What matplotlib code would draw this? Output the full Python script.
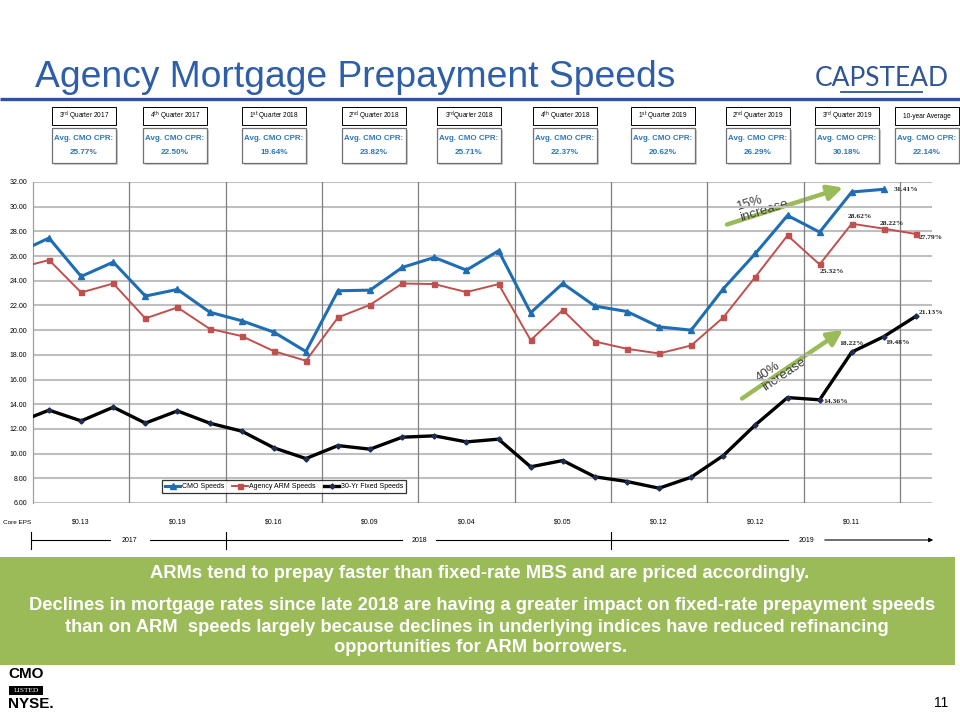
import matplotlib
matplotlib.use("Agg")
import matplotlib.pyplot as plt
import matplotlib.font_manager as fm
from matplotlib.patches import Rectangle
from matplotlib.transforms import blended_transform_factory

# ---------------- data ----------------
months = ["Jun-17", "Jul-17", "Aug-17", "Sep-17", "Oct-17", "Nov-17", "Dec-17",
          "Jan-18", "Feb-18", "Mar-18", "Apr-18", "May-18", "Jun-18",
          "Jul-18", "Aug-18", "Sep-18", "Oct-18", "Nov-18", "Dec-18",
          "Jan-19", "Feb-19", "Mar-19", "Apr-19", "May-19", "Jun-19",
          "Jul-19", "Aug-19", "Sep-19", "Oct-19"]
cmo_speeds = [26.25, 27.46, 24.35, 25.51, 22.76, 23.30, 21.46,
              20.76, 19.84, 18.27, 23.19, 23.24, 25.08,
              25.89, 24.86, 26.43, 21.41, 23.78, 21.95,
              21.51, 20.27, 20.00, 23.35, 26.21, 29.29,
              27.94, 31.19, 31.41]
arm_speeds = [25.00, 25.68, 23.05, 23.78, 20.95, 21.84, 20.11,
              19.52, 18.30, 17.52, 21.03, 22.05, 23.78,
              23.73, 23.08, 23.73, 19.19, 21.62, 19.08,
              18.49, 18.11, 18.76, 21.03, 24.32, 27.67,
              25.32, 28.62, 28.22, 27.79]
fixed_speeds = [12.50, 13.52, 12.65, 13.76, 12.47, 13.46, 12.47,
                11.82, 10.47, 9.60, 10.65, 10.36, 11.33,
                11.44, 10.95, 11.17, 8.93, 9.44, 8.12,
                7.74, 7.20, 8.09, 9.84, 12.33, 14.54,
                14.36, 18.22, 19.48, 21.13]
quarters = ["3$^{\\rm rd}$ Quarter 2017", "4$^{\\rm th}$ Quarter 2017",
            "1$^{\\rm st}$ Quarter 2018", "2$^{\\rm nd}$ Quarter 2018",
            "3$^{\\rm rd}$Quarter 2018", "4$^{\\rm th}$ Quarter 2018",
            "1$^{\\rm st}$ Quarter 2019", "2$^{\\rm nd}$ Quarter 2019",
            "3$^{\\rm rd}$ Quarter 2019", "10-year Average"]
avg_cmo_cpr = ["25.77%", "22.50%", "19.64%", "23.82%", "25.71%",
               "22.37%", "20.62%", "26.29%", "30.18%", "22.14%"]
core_eps = ["$0.13", "$0.19", "$0.16", "$0.09", "$0.04",
            "$0.05", "$0.12", "$0.12", "$0.11"]
years = ["2017", "2018", "2019"]
yticks = [6, 8, 10, 12, 14, 16, 18, 20, 22, 24, 26, 28, 30, 32]

# ---------------- fonts ----------------
names = {f.name for f in fm.fontManager.ttflist}
NARROW = "Liberation Sans Narrow" if "Liberation Sans Narrow" in names else "Liberation Sans"
SANS = "Liberation Sans"
SERIF = "Liberation Serif"

W, H = 960, 720
fig = plt.figure(figsize=(9.6, 7.2), dpi=100)
fig.patch.set_facecolor("white")

# overlay axes in pixel coordinates
ov = fig.add_axes([0, 0, 1, 1])
ov.set_xlim(0, W)
ov.set_ylim(H, 0)
ov.axis("off")
ov.set_zorder(0)

# main chart axes
L, R, T, B = 33, 932, 182, 503
ax = fig.add_axes([L / W, 1 - B / H, (R - L) / W, (B - T) / H])
ax.set_zorder(2)
ax.patch.set_alpha(0)
x = list(range(-1, len(months) - 1))

ax.plot(x[:len(cmo_speeds)], cmo_speeds, color="#1F6DB2", lw=2.2, marker="^",
        ms=4.5, label="CMO Speeds", zorder=5)
ax.plot(x, arm_speeds, color="#C0504D", lw=1.4, marker="s", ms=3.6,
        label="Agency ARM Speeds", zorder=4)
ax.plot(x, fixed_speeds, color="#000000", lw=2.4, marker="D", ms=2.6,
        mfc="#1F2D50", mec="#1F2D50", label="30-Yr Fixed Speeds", zorder=4)

ax.set_xlim(-0.5, len(months) - 1.5)
ax.set_ylim(6, 32)
ax.set_yticks(yticks)
ax.set_yticklabels([f"{v:.2f}" for v in yticks], fontsize=5.0, family=NARROW)
ax.tick_params(axis="y", length=0, pad=4)
ax.set_xticks([])
for v in yticks:
    ax.axhline(v, color="#BFBFBF", lw=1.5, zorder=1)
for q in range(1, 10):
    ax.axvline(3 * q - 0.5, color="#7F7F7F", lw=0.9, zorder=1)
for s in ["top", "right", "bottom"]:
    ax.spines[s].set_visible(False)
ax.spines["left"].set_color("#A0A0A0")
ax.spines["left"].set_linewidth(0.9)

leg = ax.legend(loc="center", bbox_to_anchor=(284 / W, 1 - 486.5 / H),
                bbox_transform=fig.transFigure, ncol=3, frameon=True,
                fancybox=False, edgecolor="black",
                prop={"family": NARROW, "size": 5.0}, handlelength=2.2,
                columnspacing=1.2, handletextpad=0.2, borderpad=0.4)
leg.get_frame().set_linewidth(0.9)

# data labels (x index: Jul-17 = 0)
lab = dict(fontsize=5.4, family=SERIF, fontweight="bold", color="#222222",
           textcoords="offset points")
def dl(series, i, dx, dy, ha="left", va="center"):
    v = series[i + 1]
    ax.annotate(f"{v:.2f}%", xy=(i, v), xytext=(dx, dy), ha=ha, va=va, **lab)

dl(cmo_speeds, 26, 7, 0)
dl(arm_speeds, 24, 0, -5)
dl(arm_speeds, 25, 6, 5, ha="center")
dl(arm_speeds, 26, 6, 4, ha="center")
dl(arm_speeds, 27, 2, -2.5)
dl(fixed_speeds, 24, 3, -1)
dl(fixed_speeds, 25, 0, 6, ha="center")
dl(fixed_speeds, 26, 1, -4)
dl(fixed_speeds, 27, 2, 2.5)

# ---------------- header ----------------
ov.text(35, 87, "Agency Mortgage Prepayment Speeds", fontsize=26.8, family=SANS,
        color="#2F5EA8", va="baseline", ha="left")
ov.plot([0, W], [98.5, 98.5], color="#2F5597", lw=2.4, solid_capstyle="butt")
ov.text(882, 78, "CAPSTEAD", fontsize=19, family="Lato", fontweight="normal",
        color="#2F5597", ha="center", va="center")
ov.plot([841, 922], [92, 92], color="#2F5597", lw=1.3)

# quarter boxes
box_l = [52, 143, 242, 342, 437, 533, 631, 726, 815, 895]
box_w = 64
for bl, qlab, cpr in zip(box_l, quarters, avg_cmo_cpr):
    ov.add_patch(Rectangle((bl, 107), box_w, 18, fc="white", ec="black", lw=0.7))
    ov.text(bl + box_w / 2, 116, qlab, fontsize=4.7, family=NARROW,
            ha="center", va="center", color="black")
    ov.add_patch(Rectangle((bl + 1.5, 129.5), box_w, 35, fc="#D0D0D0", ec="none"))
    ov.add_patch(Rectangle((bl, 128), box_w, 35, fc="white", ec="#707070", lw=0.9))
    ov.text(bl + box_w / 2, 139, "Avg. CMO CPR:", fontsize=5.7, family=NARROW,
            fontweight="bold", ha="center", va="center", color="#2E75B6")
    ov.text(bl + box_w / 2, 153, cpr, fontsize=5.9, family=NARROW,
            fontweight="bold", ha="center", va="center", color="#2E75B6")

# ---------------- below chart ----------------
bt = blended_transform_factory(ax.transData, ov.transData)
ov.text(17, 522, "Core EPS", fontsize=4.6, family=NARROW, ha="center",
        va="center", color="black")
for qi, e in enumerate(core_eps):
    ov.text(3 * qi + 1, 522, e, transform=bt, fontsize=5.0, family=NARROW,
            ha="center", va="center", color="black")

ty = 540
for bx in [-0.55, 5.5, 17.5]:
    ov.plot([bx, bx], [532, 549], transform=bt, color="black", lw=0.8)
ov.plot([31.5, 110], [ty, ty], color="black", lw=0.8)
ov.plot([150, 402], [ty, ty], color="black", lw=0.8)
ov.plot([436, 788], [ty, ty], color="black", lw=0.8)
ov.annotate("", xy=(936, ty), xytext=(822, ty),
            arrowprops=dict(arrowstyle="-|>", color="black", lw=0.8,
                            mutation_scale=6))
for yl, xc in zip(years, [129, 419, 806]):
    ov.text(xc, ty, yl, fontsize=5.0, family=NARROW, ha="center",
            va="center", color="black")

# green arrows and annotations
arrow_kw = dict(arrowstyle="-|>,head_length=0.9,head_width=0.45",
                color="#9BBB59", lw=3.2, shrinkA=0, shrinkB=0,
                mutation_scale=10)
ov.annotate("", xy=(843, 187.5), xytext=(727, 224.5), arrowprops=arrow_kw)
ov.annotate("", xy=(843, 330), xytext=(742, 398.5), arrowprops=arrow_kw)
ov.text(739, 213, "15%\nincrease", fontsize=9.5, family=SANS, color="#404040",
        rotation=17, rotation_mode="anchor", ha="left", va="center",
        linespacing=0.95, zorder=6)
ov.text(760, 384, "40%\nincrease", fontsize=9.5, family=SANS, color="#404040",
        rotation=34, rotation_mode="anchor", ha="left", va="center",
        linespacing=0.95, zorder=6)

# ---------------- green box ----------------
ov.add_patch(Rectangle((0, 557), 955, 108, fc="#9BBB59", ec="none"))
gk = dict(fontsize=13.2, family=NARROW, fontweight="bold", color="white",
          ha="center", va="center")
ov.text(480, 574, "ARMs tend to prepay faster than fixed-rate MBS and are priced accordingly.", **gk)
ov.text(482, 606, "Declines in mortgage rates since late 2018 are having a greater impact on fixed-rate prepayment speeds", **gk)
ov.text(477, 627, "than on ARM  speeds largely because declines in underlying indices have reduced refinancing", **gk)
ov.text(481, 648, "opportunities for ARM borrowers.", **gk)

# ---------------- footer ----------------
ov.text(26.5, 674, "CMO", fontsize=11, family=NARROW, fontweight="bold",
        ha="center", va="center", color="black")
ov.add_patch(Rectangle((9, 685.5), 34, 9, fc="black", ec="none"))
ov.text(26, 690.3, "LISTED", fontsize=5.3, family=SERIF,
        ha="center", va="center", color="white")
ov.text(8, 704.5, "NYSE.", fontsize=11, family=NARROW, fontweight="bold",
        ha="left", va="center", color="black")
ov.text(941, 703, "11", fontsize=10, family=SANS, ha="center", va="center",
        color="black")

fig.savefig("out.png", dpi=100, facecolor="white")
